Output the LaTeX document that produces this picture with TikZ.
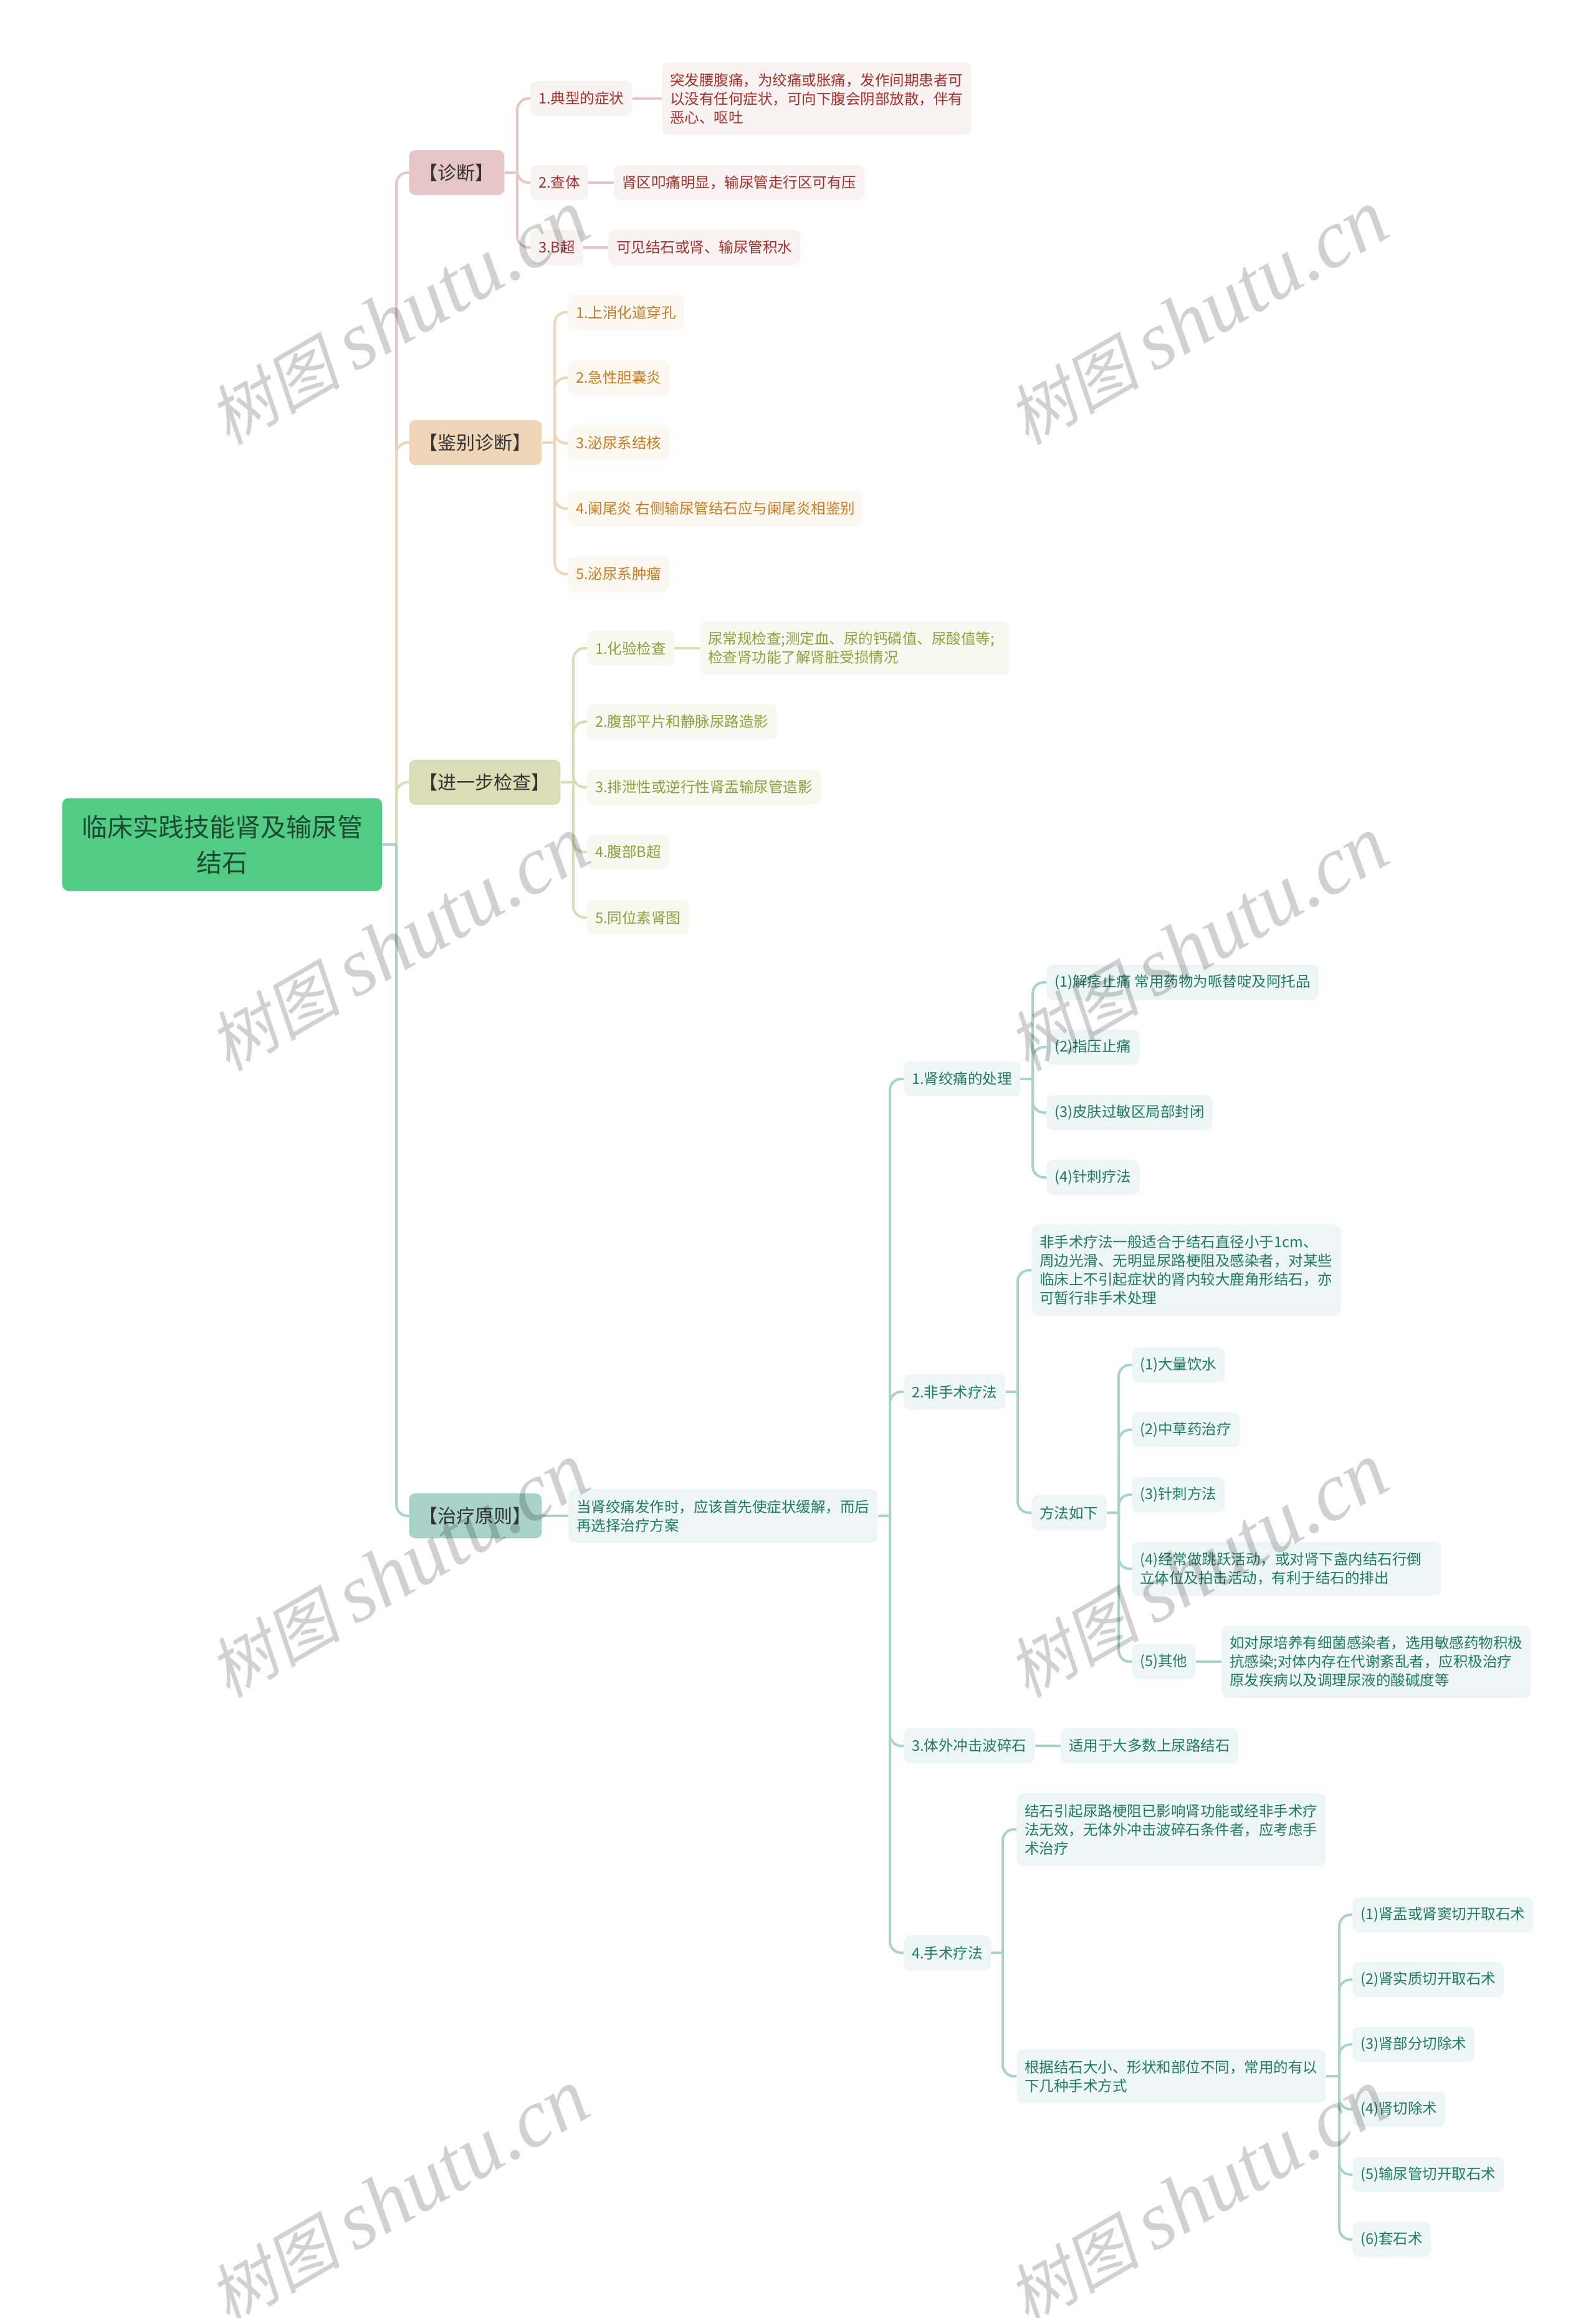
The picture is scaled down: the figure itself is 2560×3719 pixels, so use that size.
\documentclass[tikz,border=0pt]{standalone}
\usepackage{fontspec}
\setmainfont{Noto Sans CJK SC}
\newfontfamily\wmcjk[FakeSlant=0.2]{Noto Sans CJK SC}
\newfontfamily\wmlat{Liberation Serif}

\definecolor{lineA}{HTML}{E6C6C6}
\definecolor{lineB}{HTML}{F0D6B8}
\definecolor{lineC}{HTML}{DADEB6}
\definecolor{lineD}{HTML}{A9D3C8}
\definecolor{fillA}{HTML}{F8F2F2}
\definecolor{fillB}{HTML}{FCF7F0}
\definecolor{fillC}{HTML}{F7F8EF}
\definecolor{fillD}{HTML}{EDF6F5}
\definecolor{textA}{HTML}{A5302A}
\definecolor{textB}{HTML}{C87D22}
\definecolor{textC}{HTML}{8F9F3C}
\definecolor{textD}{HTML}{1F7A65}
\definecolor{rootfill}{HTML}{52CC85}
\definecolor{roottext}{HTML}{1B4A30}

\tikzset{
  leaf/.style={rounded corners=5pt, inner xsep=6.5pt, inner ysep=0pt, anchor=west, align=left,
    font=\fontsize{11.75}{15}\selectfont, minimum height=#1*15pt+13pt},
  leaf/.default=1,
  kidA/.style={leaf=#1, fill=fillA, text=textA}, kidA/.default=1,
  kidB/.style={leaf=#1, fill=fillB, text=textB}, kidB/.default=1,
  kidC/.style={leaf=#1, fill=fillC, text=textC}, kidC/.default=1,
  kidD/.style={leaf=#1, fill=fillD, text=textD}, kidD/.default=1,
  wide/.style={text width=235pt},
  head/.style={rounded corners=5pt, inner xsep=8.25pt, inner ysep=0pt, anchor=west, text=black!80,
    font=\fontsize{15}{18}\selectfont, minimum height=36pt},
  con/.style={line width=2pt},
  wmark/.style={rotate=30, text=black, text opacity=.18, inner sep=0pt},
}

% parent stub to the spine, then one rounded elbow per child
\newcommand{\fork}[4]{%
  \coordinate (sp) at (#3,0);
  \draw[con,#1] (#2.east) -- (#2.east -| sp);
  \foreach \kid in {#4}
    \draw[con,#1,rounded corners=9pt] (#2.east -| sp) |- (\kid.west);
}

\begin{document}
\begin{tikzpicture}[x=0.5pt,y=-0.5pt]
\useasboundingbox (0,0) rectangle (2560,3719);

\node[rounded corners=5pt, fill=rootfill, text=roottext, align=center, inner sep=0pt,
  minimum width=256.5pt, minimum height=74.5pt, font=\fontsize{20.5}{28.5}\selectfont]
  (root) at (356.5,1355) {临床实践技能肾及输尿管\\结石};

\node[head, fill=lineA] (diag) at (656,277) {【诊断】};
\node[head, fill=lineB] (diff) at (656,710) {【鉴别诊断】};
\node[head, fill=lineC] (exam) at (656,1255) {【进一步检查】};
\node[head, fill=lineD] (treat) at (656,2432) {【治疗原则】};

% diagnosis
\node[kidA] (a1) at (851,158) {1.典型的症状};
\node[kidA=3,wide] (a1x) at (1062,158) {突发腰腹痛，为绞痛或胀痛，发作间期患者可\\以没有任何症状，可向下腹会阴部放散，伴有\\恶心、呕吐};
\node[kidA] (a2) at (851,293) {2.查体};
\node[kidA] (a2x) at (985,293) {肾区叩痛明显，输尿管走行区可有压};
\node[kidA] (a3) at (851,397) {3.B超};
\node[kidA] (a3x) at (976,397) {可见结石或肾、输尿管积水};

% differential
\node[kidB] (b1) at (911,501) {1.上消化道穿孔};
\node[kidB] (b2) at (911,606) {2.急性胆囊炎};
\node[kidB] (b3) at (911,711) {3.泌尿系结核};
\node[kidB] (b4) at (911,816) {4.阑尾炎 右侧输尿管结石应与阑尾炎相鉴别};
\node[kidB] (b5) at (911,921) {5.泌尿系肿瘤};

% further tests
\node[kidC] (c1) at (942,1040) {1.化验检查};
\node[kidC=2,wide] (c1x) at (1123,1040) {尿常规检查;测定血、尿的钙磷值、尿酸值等;\\检查肾功能了解肾脏受损情况};
\node[kidC] (c2) at (942,1158) {2.腹部平片和静脉尿路造影};
\node[kidC] (c3) at (942,1263) {3.排泄性或逆行性肾盂输尿管造影};
\node[kidC] (c4) at (942,1367) {4.腹部B超};
\node[kidC] (c5) at (942,1472) {5.同位素肾图};

% treatment
\node[kidD=2,wide] (d0) at (912,2432) {当肾绞痛发作时，应该首先使症状缓解，而后\\再选择治疗方案};
\node[kidD] (d1) at (1450,1731) {1.肾绞痛的处理};
\node[kidD] (d11) at (1679,1576) {(1)解痉止痛 常用药物为哌替啶及阿托品};
\node[kidD] (d12) at (1679,1680) {(2)指压止痛};
\node[kidD] (d13) at (1679,1785) {(3)皮肤过敏区局部封闭};
\node[kidD] (d14) at (1679,1889) {(4)针刺疗法};
\node[kidD] (d2) at (1450,2233) {2.非手术疗法};
\node[kidD=4,wide] (d21) at (1655,2038) {非手术疗法一般适合于结石直径小于1cm、\\周边光滑、无明显尿路梗阻及感染者，对某些\\临床上不引起症状的肾内较大鹿角形结石，亦\\可暂行非手术处理};
\node[kidD] (d22) at (1655,2427) {方法如下};
\node[kidD] (d221) at (1816,2190) {(1)大量饮水};
\node[kidD] (d222) at (1816,2294) {(2)中草药治疗};
\node[kidD] (d223) at (1816,2398) {(3)针刺方法};
\node[kidD=2,wide] (d224) at (1816,2517) {(4)经常做跳跃活动，或对肾下盏内结石行倒\\立体位及拍击活动，有利于结石的排出};
\node[kidD] (d225) at (1816,2666) {(5)其他};
\node[kidD=3,wide] (d225x) at (1960,2666) {如对尿培养有细菌感染者，选用敏感药物积极\\抗感染;对体内存在代谢紊乱者，应积极治疗\\原发疾病以及调理尿液的酸碱度等};
\node[kidD] (d3) at (1450,2801) {3.体外冲击波碎石};
\node[kidD] (d3x) at (1702,2801) {适用于大多数上尿路结石};
\node[kidD] (d4) at (1450,3133) {4.手术疗法};
\node[kidD=3,wide] (d41) at (1631,2935) {结石引起尿路梗阻已影响肾功能或经非手术疗\\法无效，无体外冲击波碎石条件者，应考虑手\\术治疗};
\node[kidD=2,wide] (d42) at (1631,3331) {根据结石大小、形状和部位不同，常用的有以\\下几种手术方式};
\node[kidD] (d421) at (2170,3072) {(1)肾盂或肾窦切开取石术};
\node[kidD] (d422) at (2170,3176) {(2)肾实质切开取石术};
\node[kidD] (d423) at (2170,3280) {(3)肾部分切除术};
\node[kidD] (d424) at (2170,3384) {(4)肾切除术};
\node[kidD] (d425) at (2170,3489) {(5)输尿管切开取石术};
\node[kidD] (d426) at (2170,3593) {(6)套石术};

% connectors
\fork{lineA}{root}{636}{diag}
\fork{lineB}{root}{636}{diff}
\fork{lineC}{root}{636}{exam}
\fork{lineD}{root}{636}{treat}

\fork{lineA}{diag}{830}{a1,a2,a3}
\draw[con,lineA] (a1) -- (a1x);
\draw[con,lineA] (a2) -- (a2x);
\draw[con,lineA] (a3) -- (a3x);
\fork{lineB}{diff}{890}{b1,b2,b3,b4,b5}
\fork{lineC}{exam}{920}{c1,c2,c3,c4,c5}
\draw[con,lineC] (c1) -- (c1x);

\draw[con,lineD] (treat) -- (d0);
\fork{lineD}{d0}{1428}{d1,d2,d3,d4}
\fork{lineD}{d1}{1657}{d11,d12,d13,d14}
\fork{lineD}{d2}{1633}{d21,d22}
\fork{lineD}{d22}{1795}{d221,d222,d223,d224,d225}
\draw[con,lineD] (d225) -- (d225x);
\draw[con,lineD] (d3) -- (d3x);
\fork{lineD}{d4}{1609}{d41,d42}
\fork{lineD}{d42}{2149}{d421,d422,d423,d424,d425,d426}

% watermark
\foreach \wx/\wy [count=\wn] in {640/510,1922/510,640/1515,1922/1515,640/2520,1922/2520,640/3525,1922/3525}
  \node[wmark] (wm\wn) at (\wx,\wy) {\fontsize{53}{60}\selectfont\wmcjk 树图 \fontsize{66}{60}\selectfont\wmlat\itshape shutu.cn};
\end{tikzpicture}
\end{document}
